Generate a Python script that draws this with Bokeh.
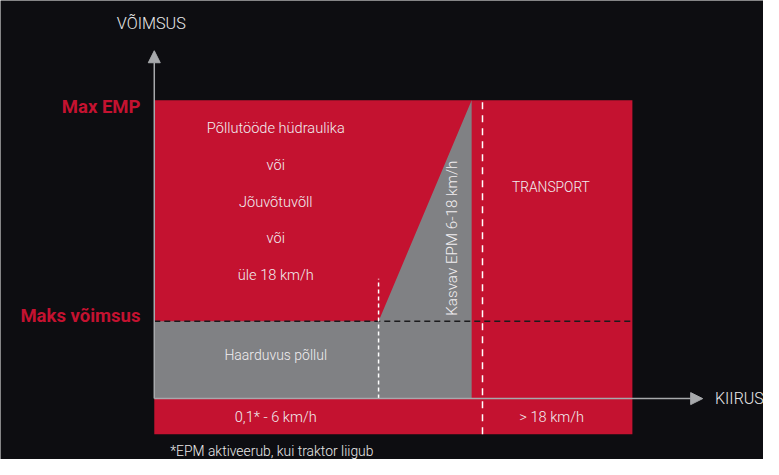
from bokeh.plotting import figure
from bokeh.models import Range1d, Arrow, NormalHead, ColumnDataSource
from bokeh.core.properties import value
from bokeh.embed import file_html
from bokeh.resources import INLINE

# ---- schematic data (speed axis in schematic units, power in units of max power) ----
speed_field_end = 6.0      # end of field work zone (6 km/h)
speed_epm_end = 8.49       # end of rising EPM zone
speed_transport = 8.78     # transport boundary (> 18 km/h)
speed_end = 12.79          # right end of diagram
speed_arrow = 14.67        # x-axis arrow tip
power_max = 1.0            # Maks võimsus
power_emp = 3.86           # Max EMP
power_arrow = 4.5          # y-axis arrow tip
band_bottom = -0.46        # bottom of speed label band
field_marker_top = 1.55    # top of dashed marker at 6 km/h

upper_lines = ["Põllutööde hüdraulika", "või", "Jõuvõtuvõll", "või", "üle 18 km/h"]
upper_line_y = [3.5, 3.025, 2.5375, 2.075, 1.6]

RED = "#c41230"
GRAY = "#808184"
AXIS = "#a7a9ac"
BG = "#0d0d11"
TXT = "#f1eef0"
FONT = value("'Roboto Light', Roboto")
BOLD = value("Roboto")

p = figure(width=763, height=459, output_backend="svg", toolbar_location=None,
           x_range=Range1d(-4.1135, 16.297), y_range=Range1d(-0.7875, 5.15),
           min_border=0, background_fill_color=BG, border_fill_color=BG)
p.axis.visible = False
p.grid.visible = False
p.outline_line_color = None

# red field
p.quad(left=[0], right=[speed_end], bottom=[band_bottom], top=[power_emp],
       fill_color=RED, line_color=None)

# gray region: field grip + rising EPM triangle
p.patch(x=[0, speed_epm_end, speed_epm_end, speed_field_end, 0],
        y=[0, 0, power_emp, power_max, power_max],
        fill_color=GRAY, line_color=None)

# black dashed max power line
p.line(x=[0, speed_end], y=[power_max, power_max], line_color="#1b1b1d",
       line_width=1.5, line_dash="6 4")

# white dashed markers
p.line(x=[speed_field_end, speed_field_end], y=[0, field_marker_top], line_color="white",
       line_width=1.5, line_dash="4 3")
p.line(x=[speed_transport, speed_transport], y=[band_bottom, power_emp], line_color="white",
       line_width=1.5, line_dash="7 6")

# axes with arrows
p.add_layout(Arrow(end=NormalHead(size=12, fill_color=AXIS, line_color=AXIS),
                   x_start=0, y_start=0, x_end=speed_arrow, y_end=0,
                   line_color=AXIS, line_width=1.5))
p.add_layout(Arrow(end=NormalHead(size=12, fill_color=AXIS, line_color=AXIS),
                   x_start=0, y_start=0, x_end=0, y_end=power_arrow,
                   line_color=AXIS, line_width=1.5))

def txt(x, y, t, size="14.6px", color=TXT, align="center", angle=0, style="normal", font=FONT):
    p.text(x=[x], y=[y], text=[t], text_color=color, text_font=font,
           text_font_size=size, text_align=align, text_baseline="middle",
           angle=angle, text_font_style=style)

txt(-0.08, 4.85, "VÕIMSUS", size="16.2px", color="#e8e8e8")
txt(15.0, 0.0, "KIIRUS", size="16px", align="left", color="#e8e8e8")
txt(-0.37, 3.775, "Max EMP", size="18.5px", color=RED, align="right", style="bold", font=BOLD)
txt(-0.37, 1.0625, "Maks võimsus", size="18.5px", color=RED, align="right", style="bold", font=BOLD)

src = ColumnDataSource(dict(x=[3.25] * len(upper_lines), y=upper_line_y, t=upper_lines))
p.text(x="x", y="y", text="t", source=src, text_color=TXT, text_font=FONT,
       text_font_size="14.6px", text_align="center", text_baseline="middle")

txt(3.25, 0.5625, "Haarduvus põllul", size="14px")
txt(7.965, 2.075, "Kasvav EPM 6-18 km/h", size="15.2px", angle=1.5708)
txt(10.61, 2.7375, "TRANSPORT", size="13.8px")
txt(3.25, -0.2375, "0,1* - 6 km/h")
txt(10.63, -0.2375, "> 18 km/h")
txt(3.144, -0.675, "*EPM aktiveerub, kui traktor liigub", size="13.9px", color="#e8e8e8")

open("out.html", "w").write(file_html(p, INLINE))
